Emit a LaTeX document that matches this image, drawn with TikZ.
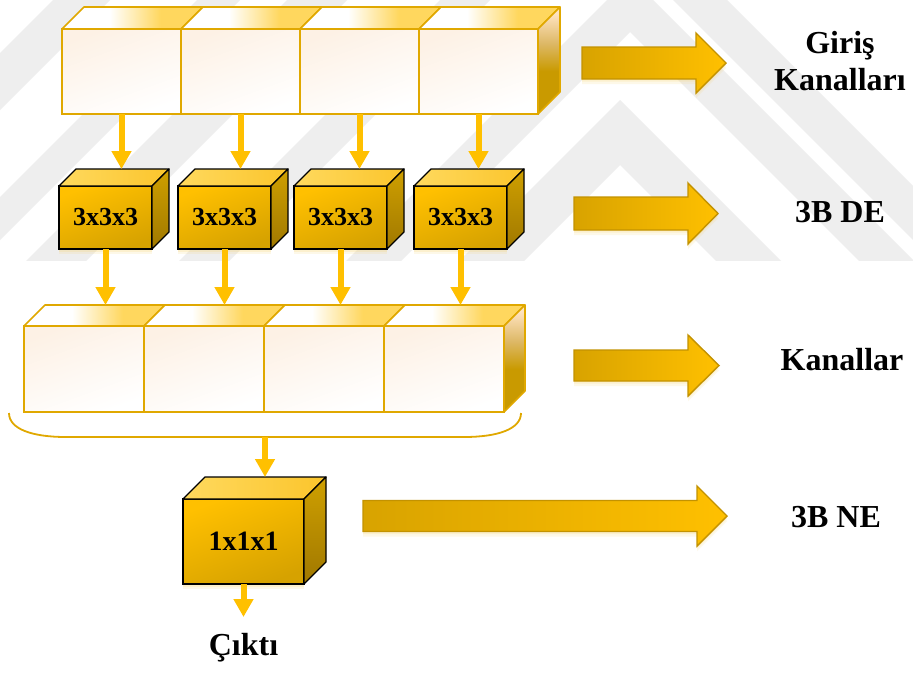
\documentclass[tikz,border=0pt]{standalone}
\usepackage{fontspec}
\setmainfont{Liberation Serif}
\usetikzlibrary{arrows.meta,calc}

\definecolor{arrowgold}{HTML}{FFC000}
\definecolor{chanline}{HTML}{E0A800}
\definecolor{chantint}{HTML}{FDF1E5}
\definecolor{chantop}{HTML}{FFD75E}
\definecolor{sidedark}{HTML}{C99A00}
\definecolor{sidemid}{HTML}{DDB866}
\definecolor{sidepeach}{HTML}{FFE3C0}
\definecolor{cubetopL}{HTML}{FFD95E}
\definecolor{cubetopR}{HTML}{FBC52C}
\definecolor{cubefrontA}{HTML}{FFC000}
\definecolor{cubefrontB}{HTML}{D6A200}
\definecolor{cubesideA}{HTML}{CFA000}
\definecolor{cubesideB}{HTML}{A07800}
\definecolor{blockL}{HTML}{D8A300}
\definecolor{blockR}{HTML}{FFC000}
\definecolor{blockline}{HTML}{C39200}
\definecolor{glow}{HTML}{F8D36A}
\definecolor{wmgray}{HTML}{EEEEEE}

% top face of a channel cell: white on the left, gold on the right
\pgfdeclarehorizontalshading{chantopshade}{100bp}{color(0bp)=(white); color(25bp)=(white); color(42bp)=(white); color(60bp)=(chantop); color(100bp)=(chantop)}
% right face of a channel row: peach at the top, dark gold below
\pgfdeclareverticalshading{chansideshade}{100bp}{color(0bp)=(sidedark); color(45bp)=(sidedark); color(58bp)=(sidemid); color(72bp)=(sidepeach); color(100bp)=(sidepeach)}

\tikzset{
  softglow/.style={
    preaction={fill=glow, fill opacity=0.15, transform canvas={yshift=-5pt}},
    preaction={fill=glow, fill opacity=0.2, transform canvas={yshift=-2.5pt}}},
  chancell/.style={draw=chanline, line width=1.6pt, outer sep=0pt, inner sep=0pt,
    top color=chantint, bottom color=white, shading angle=20},
  chanface/.style={draw=chanline, line width=1.6pt, line join=round},
  cubefront/.style={draw=black, line width=1.3pt, outer sep=0pt, inner sep=0pt,
    top color=cubefrontA, bottom color=cubefrontB, shading angle=20, softglow,
    font=\bfseries\fontsize{26}{30}\selectfont},
  cubeface/.style={draw=black, line width=1.3pt, line join=round},
  flow/.style={draw=arrowgold, line width=6pt, -{Triangle[width=19pt,length=18pt]}},
  wmband/.style={fill=wmgray},
  blockarrow/.style={draw=blockline, line width=1.4pt, left color=blockL, right color=blockR, softglow},
  sidelabel/.style={font=\bfseries\fontsize{32}{37}\selectfont, align=center, inner sep=0pt},
}

% block arrow: start x, head base x, tip x, centre y, shaft half height, head half height
\newcommand\blockarrow[6]{%
  \path[blockarrow] (#1,{#4-#5}) -- (#2,{#4-#5}) -- (#2,{#4-#6}) -- (#3,#4)
    -- (#2,{#4+#6}) -- (#2,{#4+#5}) -- (#1,{#4+#5}) -- cycle;}

\begin{document}
\begin{tikzpicture}[x=1pt,y=-1pt]
\useasboundingbox (0,0) rectangle (913,675);
\fill[white] (0,0) rectangle (913,675);

% faint background emblem
\begin{scope}
  \clip (0,0) rectangle (913,260);
  \fill[wmband] (230,377) -- (630,-23) -- (1030,377) -- (1030,432) -- (630,32) -- (230,432) -- cycle;
  \fill[wmband] (220,500) -- (620,100) -- (1020,500) -- (1020,565) -- (620,165) -- (220,565) -- cycle;
  \fill[wmband] (673,0) -- (727,0) -- (1027,300) -- (973,300) -- cycle;
  \foreach \a/\b in {440/490, 287/347, 197/240, 53/110}
    \fill[wmband] (\a,0) -- (\b,0) -- (\b-300,300) -- (\a-300,300) -- cycle;
\end{scope}

% input channels
\foreach \i/\x in {1/121.5, 2/240.5, 3/359.5, 4/478.5}
  \node[chancell, minimum width=119pt, minimum height=85pt] (in\i) at (\x,71.5) {};
\foreach \i in {1,...,4}
  \shade[chanface, shading=chantopshade] (in\i.north west) -- ++(22,-22)
    -- ($(in\i.north east)+(22,-22)$) -- (in\i.north east) -- cycle;
\shade[chanface, shading=chansideshade] (in4.north east) -- ++(22,-22) -- ++(0,85)
  -- (in4.south east) -- cycle;

% depthwise 3x3x3 kernels
\foreach \i/\x in {1/105.5, 2/224.5, 3/340.5, 4/460.5}
  \node[cubefront, minimum width=93pt, minimum height=63pt] (c\i) at (\x,217.5) {3x3x3};
\foreach \i in {1,...,4}{
  \shade[cubeface, left color=cubetopL, right color=cubetopR] (c\i.north west) -- ++(17,-17)
    -- ($(c\i.north east)+(17,-17)$) -- (c\i.north east) -- cycle;
  \shade[cubeface, top color=cubesideA, bottom color=cubesideB] (c\i.north east) -- ++(17,-17)
    -- ++(0,63) -- (c\i.south east) -- cycle;
  \coordinate (ct\i) at ($(c\i.north)+(0,-17)$);
}

% intermediate channels
\foreach \i/\x in {1/84, 2/204, 3/324, 4/444}
  \node[chancell, minimum width=120pt, minimum height=86pt] (mid\i) at (\x,369) {};
\foreach \i in {1,...,4}{
  \shade[chanface, shading=chantopshade] (mid\i.north west) -- ++(21,-21)
    -- ($(mid\i.north east)+(21,-21)$) -- (mid\i.north east) -- cycle;
  \coordinate (mt\i) at ($(mid\i.north)+(0,-21)$);
}
\shade[chanface, shading=chansideshade] (mid4.north east) -- ++(21,-21) -- ++(0,86)
  -- (mid4.south east) -- cycle;

% grouping brace under the channels
\draw[chanline, line width=1.8pt] (9,413) .. controls (9,429) and (32,437) .. (66,437)
  -- (464,437) .. controls (498,437) and (521,429) .. (521,413);
\coordinate (bracemid) at (265,437);

% pointwise 1x1x1 kernel
\node[cubefront, minimum width=121pt, minimum height=85pt,
  font=\bfseries\fontsize{28}{32}\selectfont] (one) at (243.5,541.5) {1x1x1};
\shade[cubeface, left color=cubetopL, right color=cubetopR] (one.north west) -- ++(22,-22)
  -- ($(one.north east)+(22,-22)$) -- (one.north east) -- cycle;
\shade[cubeface, top color=cubesideA, bottom color=cubesideB] (one.north east) -- ++(22,-22)
  -- ++(0,85) -- (one.south east) -- cycle;
\coordinate (onetop) at ($(one.north)+(0,-22)$);
\coordinate (outtip) at (243.5,617);

% data flow
\foreach \i in {1,...,4}{
  \draw[flow] (in\i.south) -- (in\i.south |- ct\i);
  \draw[flow] (c\i.south) -- (c\i.south |- mt\i);
}
\draw[flow] (bracemid) -- (bracemid |- onetop);
\draw[flow] (one.south) -- (outtip);

\node[sidelabel, anchor=base] (cikti) at (243.5,655) {Çıktı};

% stage arrows and their labels
\blockarrow{582}{696}{726}{63}{16}{30}
\blockarrow{574}{688}{718}{213.5}{16.5}{30.5}
\blockarrow{574}{688}{719}{365.5}{15.5}{30.5}
\blockarrow{363}{697}{727}{516}{15.5}{30}

\node[sidelabel] (lblIn) at (840,61) {Giriş\\Kanalları};
\node[sidelabel, anchor=base] (lblDE) at (840,222) {3B DE};
\node[sidelabel, anchor=base] (lblKan) at (842,370) {Kanallar};
\node[sidelabel, anchor=base] (lblNE) at (836,527) {3B NE};
\end{tikzpicture}
\end{document}
